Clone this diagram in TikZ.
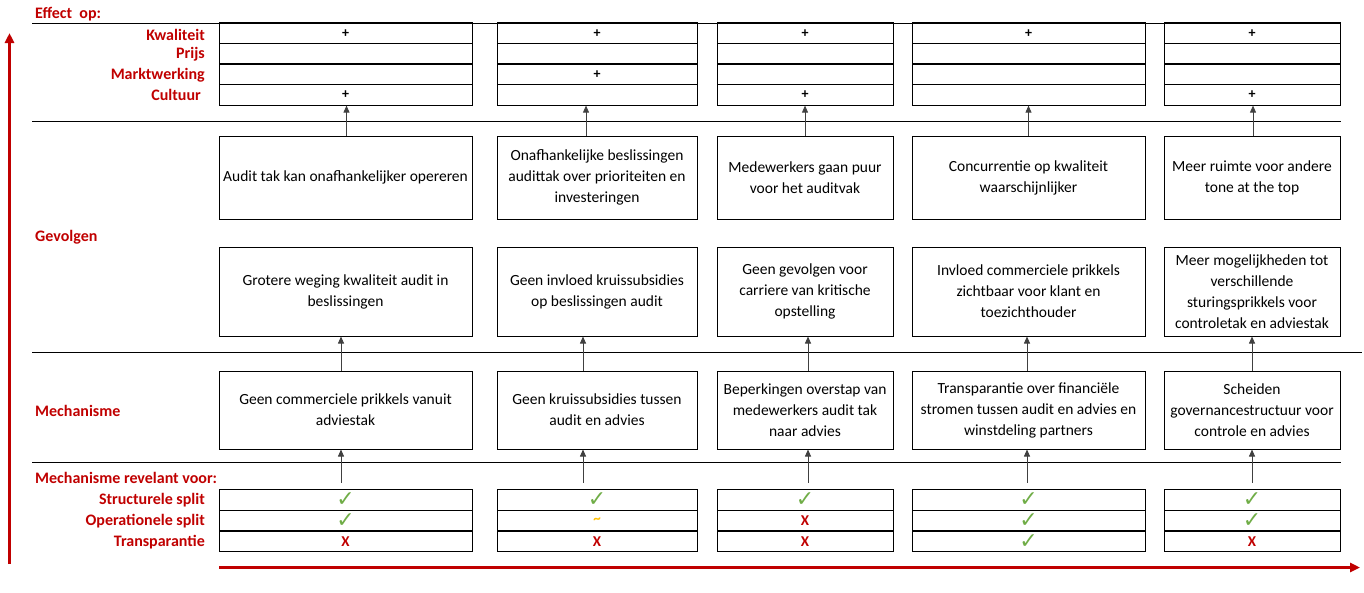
\documentclass[tikz,border=0pt]{standalone}
\usepackage{fontspec}
\setmainfont{Carlito}
\newfontfamily\symfont{DejaVu Sans}
\usetikzlibrary{arrows.meta, positioning}
\definecolor{rood}{HTML}{C00000}
\definecolor{groen}{HTML}{70AD47}
\definecolor{geel}{HTML}{FFC000}

\begin{document}
\begin{tikzpicture}[x=1pt, y=-1pt,
    blok/.style={draw, line width=1pt, align=center, inner sep=2pt, font=\fontsize{15.5}{21}\selectfont},
    cel/.style={draw, line width=1pt, minimum height=20.7pt, inner sep=0pt, font=\fontsize{14}{14}\selectfont\bfseries},
    kol1/.style={minimum width=253pt},
    kol2/.style={minimum width=200pt},
    kol3/.style={minimum width=176pt},
    kol4/.style={minimum width=233pt},
    kol5/.style={minimum width=176pt},
    rij1/.style={minimum height=83pt},
    rij2/.style={minimum height=89pt},
    rij3/.style={minimum height=78pt},
    kop/.style={font=\fontsize{16}{16}\selectfont\bfseries, text=rood, inner sep=0pt},
    pijl/.style={-{Triangle[length=7pt,width=6pt]}, line width=0.8pt, black!75},
    as/.style={-{Triangle[length=10pt,width=9pt]}, line width=2.5pt, rood},
    ja/.style={text=groen, font=\symfont\bfseries\fontsize{22}{22}\selectfont},
    nee/.style={text=rood, font=\fontsize{15}{15}\selectfont\bfseries},
    half/.style={text=geel, font=\fontsize{15}{15}\selectfont\bfseries},
]
\useasboundingbox (0,0) rectangle (1364,592);

% Section headings
\node[kop, anchor=west] (effect) at (35,14) {Effect\ \ op:};
\node[kop, anchor=east] (lkw) at (205,35) {Kwaliteit};
\node[kop, anchor=east] (lpr) at (205,54) {Prijs};
\node[kop, anchor=east] (lmw) at (205,75) {Marktwerking};
\node[kop, anchor=east] (lcu) at (201,95) {Cultuur};
\node[kop, anchor=west] (gevolgen) at (35,237) {Gevolgen};
\node[kop, anchor=west] (mechanisme) at (35,411) {Mechanisme};
\node[kop, anchor=west] (relevant) at (35,478) {Mechanisme revelant voor:};
\node[kop, anchor=east] (lss) at (205,500) {Structurele split};
\node[kop, anchor=east] (los) at (205,521) {Operationele split};
\node[kop, anchor=east] (ltr) at (205,542) {Transparantie};

% Separator lines
\draw[line width=1pt] (32,23) -- (1341,23);
\draw[line width=1pt] (32,121.7) -- (1341,121.7);
\draw[line width=1pt] (32,352.3) -- (1362,352.3);
\draw[line width=1pt] (32,462) -- (1341,462);

% Effect table
\node[cel, kol1] (k1) at (345.5,33.25) {+};
\node[cel, kol1] (p1) at (345.5,53.75) {};
\node[cel, kol1] (mw1) at (345.5,74.25) {};
\node[cel, kol1] (c1) at (345.5,94.75) {+};
\node[cel, kol2] (k2) at (597,33.25) {+};
\node[cel, kol2] (p2) at (597,53.75) {};
\node[cel, kol2] (mw2) at (597,74.25) {+};
\node[cel, kol2] (c2) at (597,94.75) {};
\node[cel, kol3] (k3) at (805,33.25) {+};
\node[cel, kol3] (p3) at (805,53.75) {};
\node[cel, kol3] (mw3) at (805,74.25) {};
\node[cel, kol3] (c3) at (805,94.75) {+};
\node[cel, kol4] (k4) at (1028.5,33.25) {+};
\node[cel, kol4] (p4) at (1028.5,53.75) {};
\node[cel, kol4] (mw4) at (1028.5,74.25) {};
\node[cel, kol4] (c4) at (1028.5,94.75) {};
\node[cel, kol5] (k5) at (1252,33.25) {+};
\node[cel, kol5] (p5) at (1252,53.75) {};
\node[cel, kol5] (mw5) at (1252,74.25) {};
\node[cel, kol5] (c5) at (1252,94.75) {+};

% Gevolgen, upper row
\node[blok, kol1, rij1] (ga1) at (345.5,177.5) {Audit tak kan onafhankelijker opereren};
\node[blok, kol2, rij1] (ga2) at (597,177.5) {Onafhankelijke beslissingen\\audittak over prioriteiten en\\investeringen};
\node[blok, kol3, rij1] (ga3) at (805,177.5) {Medewerkers gaan puur\\voor het auditvak};
\node[blok, kol4, rij1] (ga4) at (1028.5,177.5) {Concurrentie op kwaliteit\\waarschijnlijker};
\node[blok, kol5, rij1] (ga5) at (1252,177.5) {Meer ruimte voor andere\\tone at the top};

% Gevolgen, lower row
\node[blok, kol1, rij2] (gb1) at (345.5,291.5) {Grotere weging kwaliteit audit in\\beslissingen};
\node[blok, kol2, rij2] (gb2) at (597,291.5) {Geen invloed kruissubsidies\\op beslissingen audit};
\node[blok, kol3, rij2] (gb3) at (805,291.5) {Geen gevolgen voor\\carriere van kritische\\opstelling};
\node[blok, kol4, rij2] (gb4) at (1028.5,291.5) {Invloed commerciele prikkels\\zichtbaar voor klant en\\toezichthouder};
\node[blok, kol5, rij2] (gb5) at (1252,291.5) {Meer mogelijkheden tot\\verschillende\\sturingsprikkels voor\\controletak en adviestak};

% Mechanisme
\node[blok, kol1, rij3] (m1) at (345.5,410) {Geen commerciele prikkels vanuit\\adviestak};
\node[blok, kol2, rij3] (m2) at (597,410) {Geen kruissubsidies tussen\\audit en advies};
\node[blok, kol3, rij3] (m3) at (805,410) {Beperkingen overstap van\\medewerkers audit tak\\naar advies};
\node[blok, kol4, rij3] (m4) at (1028.5,410) {Transparantie over financiële\\stromen tussen audit en advies en\\winstdeling partners};
\node[blok, kol5, rij3] (m5) at (1252,410) {Scheiden\\governancestructuur voor\\controle en advies};

% Relevance table
\node[cel, kol1, ja] (s1) at (345.5,499.8) {✓};
\node[cel, kol1, ja] (o1) at (345.5,520.6) {✓};
\node[cel, kol1, nee] (t1) at (345.5,541.4) {X};
\node[cel, kol2, ja] (s2) at (597,499.8) {✓};
\node[cel, kol2, half] (o2) at (597,520.6) {\textasciitilde};
\node[cel, kol2, nee] (t2) at (597,541.4) {X};
\node[cel, kol3, ja] (s3) at (805,499.8) {✓};
\node[cel, kol3, nee] (o3) at (805,520.6) {X};
\node[cel, kol3, nee] (t3) at (805,541.4) {X};
\node[cel, kol4, ja] (s4) at (1028.5,499.8) {✓};
\node[cel, kol4, ja] (o4) at (1028.5,520.6) {✓};
\node[cel, kol4, ja] (t4) at (1028.5,541.4) {✓};
\node[cel, kol5, ja] (s5) at (1252,499.8) {✓};
\node[cel, kol5, ja] (o5) at (1252,520.6) {✓};
\node[cel, kol5, nee] (t5) at (1252,541.4) {X};

% Arrows between the levels
\draw[pijl] ([xshift=1pt]ga1.north) -- ([xshift=1pt]c1.south);
\draw[pijl] ([xshift=-11pt]ga2.north) -- ([xshift=-11pt]c2.south);
\draw[pijl] (ga3.north) -- (c3.south);
\draw[pijl] (ga4.north) -- (c4.south);
\draw[pijl] ([xshift=1pt]ga5.north) -- ([xshift=1pt]c5.south);
\draw[pijl] ([xshift=-4.5pt]m1.north) -- ([xshift=-4.5pt]gb1.south);
\draw[pijl] ([xshift=-14pt]m2.north) -- ([xshift=-14pt]gb2.south);
\draw[pijl] ([xshift=3pt]m3.north) -- ([xshift=3pt]gb3.south);
\draw[pijl] ([xshift=-1.5pt]m4.north) -- ([xshift=-1.5pt]gb4.south);
\draw[pijl] (m5.north) -- (gb5.south);
\draw[pijl] ([xshift=-4.5pt,yshift=6pt]s1.north) -- ([xshift=-4.5pt]m1.south);
\draw[pijl] ([xshift=-14pt,yshift=6pt]s2.north) -- ([xshift=-14pt]m2.south);
\draw[pijl] ([xshift=3pt,yshift=6pt]s3.north) -- ([xshift=3pt]m3.south);
\draw[pijl] ([xshift=-1.5pt,yshift=6pt]s4.north) -- ([xshift=-1.5pt]m4.south);
\draw[pijl] ([yshift=6pt]s5.north) -- (m5.south);

% Red axes
\coordinate (vonder) at (9.5,564);
\coordinate (vboven) at (9.5,33);
\coordinate (hlinks) at (219,567.5);
\coordinate (hrechts) at (1360,567.5);
\draw[as] (vonder) -- (vboven);
\draw[as] (hlinks) -- (hrechts);

\end{tikzpicture}
\end{document}
